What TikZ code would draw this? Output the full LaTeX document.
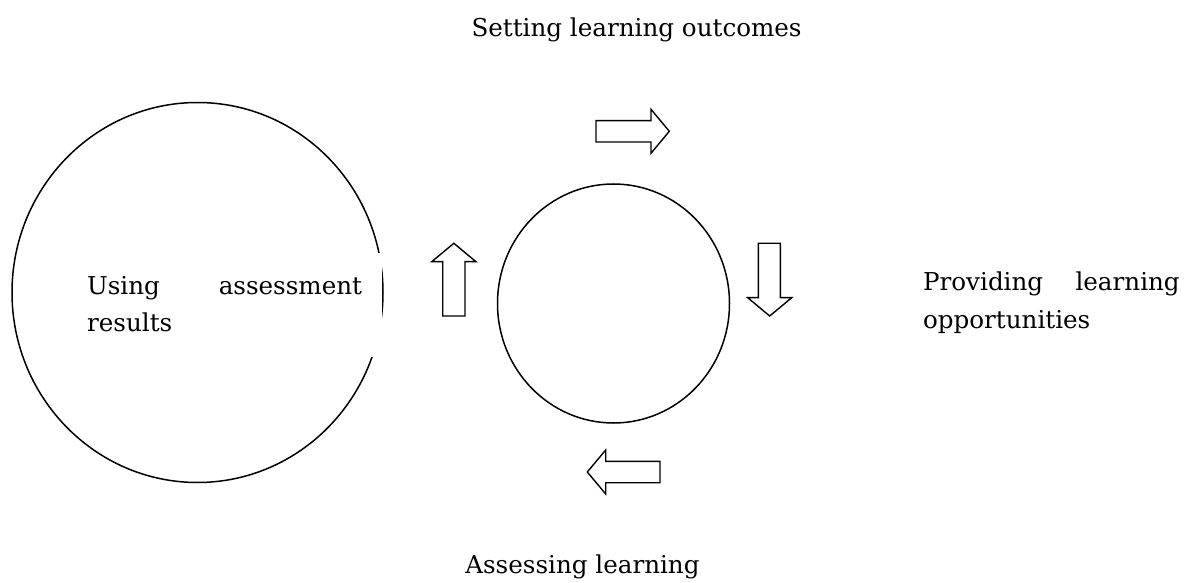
\documentclass[tikz,border=0pt]{standalone}
\usepackage{fontspec}
\setmainfont{DejaVu Serif}
\begin{document}
\begin{tikzpicture}[x=0.5pt,y=-0.5pt,
  lbl/.style={inner sep=0pt, font=\fontsize{12.3}{16}\selectfont},
  ring/.style={draw=black, line width=0.75pt},
  blockarrow/.style={draw=black, fill=white, line width=0.7pt, line join=miter}]
\useasboundingbox (0,0) rectangle (1185,583);
% big circle partly hidden by the text frame
\draw[ring] (197.5,292.5) ellipse [x radius=185.5, y radius=190];
\fill[white] (80,253) rectangle (382,357);
\node[lbl, anchor=base west] (use1) at (86.7,294) {\makebox[137.5pt][s]{Using assessment}};
\node[lbl, anchor=base west] (use2) at (86.7,331.5) {results};
% small circle
\draw[ring] (613.5,303.5) ellipse [x radius=116, y radius=119.5];
% block arrows
\draw[blockarrow] (596,120.7) -- (651,120.7) -- (651,109.3) -- (669.3,131.3) -- (651,153.3) -- (651,142) -- (596,142) -- cycle;
\draw[blockarrow] (758.3,243.3) -- (780.3,243.3) -- (780.3,297.7) -- (791.7,297.7) -- (769.7,316) -- (747.7,297.7) -- (758.3,297.7) -- cycle;
\draw[blockarrow] (660,461.3) -- (605.7,461.3) -- (605.7,450) -- (587.3,472) -- (605.7,494) -- (605.7,482.7) -- (660,482.7) -- cycle;
\draw[blockarrow] (442.7,316) -- (442.7,261.7) -- (431.7,261.7) -- (453.85,243.3) -- (476,261.7) -- (465,261.7) -- (465,316) -- cycle;
% labels
\node[lbl, anchor=base east] (set) at (802,37) {Setting learning outcomes};
\node[lbl, anchor=base west] (prov1) at (922.7,290.7) {\makebox[128.3pt][s]{Providing learning}};
\node[lbl, anchor=base west] (prov2) at (922.7,328.3) {opportunities};
\node[lbl, anchor=base east] (assess) at (700,573) {Assessing learning};
\end{tikzpicture}
\end{document}
